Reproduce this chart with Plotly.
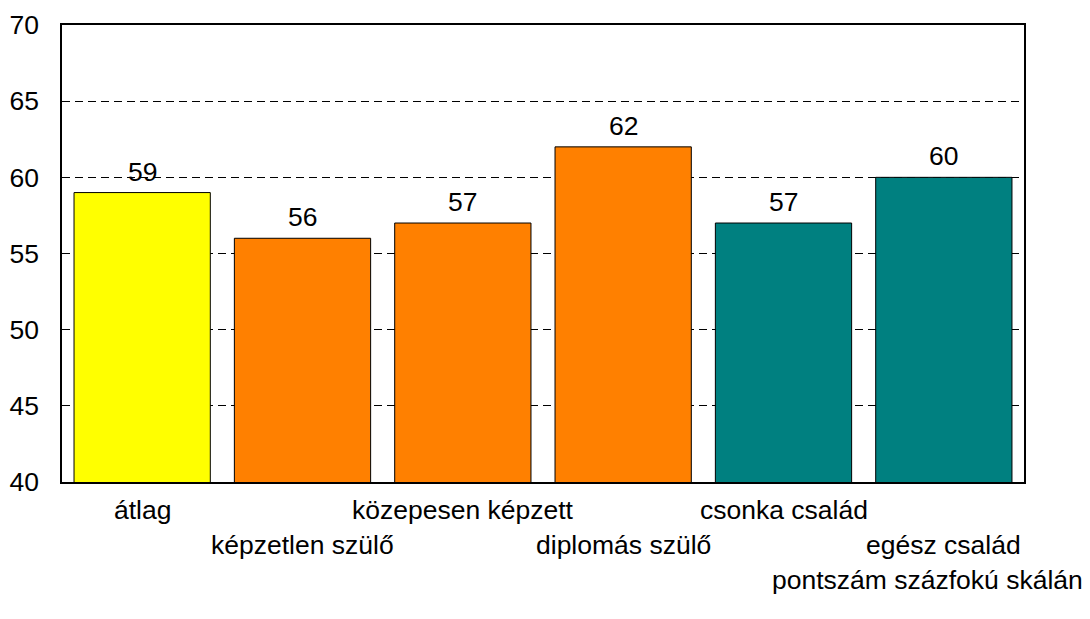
import plotly.graph_objects as go

categories = ["átlag", "képzetlen szülő", "közepesen képzett", "diplomás szülő", "csonka család", "egész család"]
values = [59, 56, 57, 62, 57, 60]
colors = ["#FFFF00", "#FF8000", "#FF8000", "#FF8000", "#008080", "#008080"]
yticks = [40, 45, 50, 55, 60, 65, 70]
note = "pontszám százfokú skálán"

FONT = "Liberation Sans, Arial, sans-serif"
FS = 26.5

fig = go.Figure()
fig.add_trace(go.Bar(
    x=categories, y=values,
    marker=dict(color=colors, line=dict(color="black", width=1)),
    width=0.85,
    cliponaxis=False,
))

annotations = []
for c, v in zip(categories, values):
    annotations.append(dict(
        x=c, xref="x", y=v, yref="y", text=str(v), showarrow=False,
        xanchor="center", yanchor="bottom", yshift=4,
        font=dict(family=FONT, size=FS, color="black"),
    ))
for i, c in enumerate(categories):
    annotations.append(dict(
        x=c, xref="x", y=-0.061 if i % 2 == 0 else -0.138, yref="paper",
        text=c, showarrow=False, xanchor="center", yanchor="middle",
        font=dict(family=FONT, size=FS, color="black"),
    ))
annotations.append(dict(
    x=1.0634, xref="paper", xanchor="right", y=-0.214, yref="paper", yanchor="middle",
    text=note, showarrow=False, font=dict(family=FONT, size=FS, color="black"),
))

fig.update_layout(
    width=1082, height=611,
    margin=dict(l=54, r=66, t=17, b=137),
    paper_bgcolor="white", plot_bgcolor="white",
    showlegend=False,
    font=dict(family=FONT, size=FS, color="black"),
    annotations=annotations,
    bargap=0.15,
)
fig.update_xaxes(showticklabels=False, showline=True, linecolor="black", linewidth=1.5,
                 mirror=True, ticks="", showgrid=False, automargin=False)
fig.update_yaxes(range=[40, 70], tickvals=yticks, showline=True, linecolor="black", linewidth=1.5,
                 mirror=True, ticks="", showgrid=True, gridcolor="black", gridwidth=1,
                 griddash="8px,5px", zeroline=False, ticklabelstandoff=16, automargin=False,
                 tickfont=dict(family=FONT, size=FS, color="black"))
fig.write_html("out.html")
